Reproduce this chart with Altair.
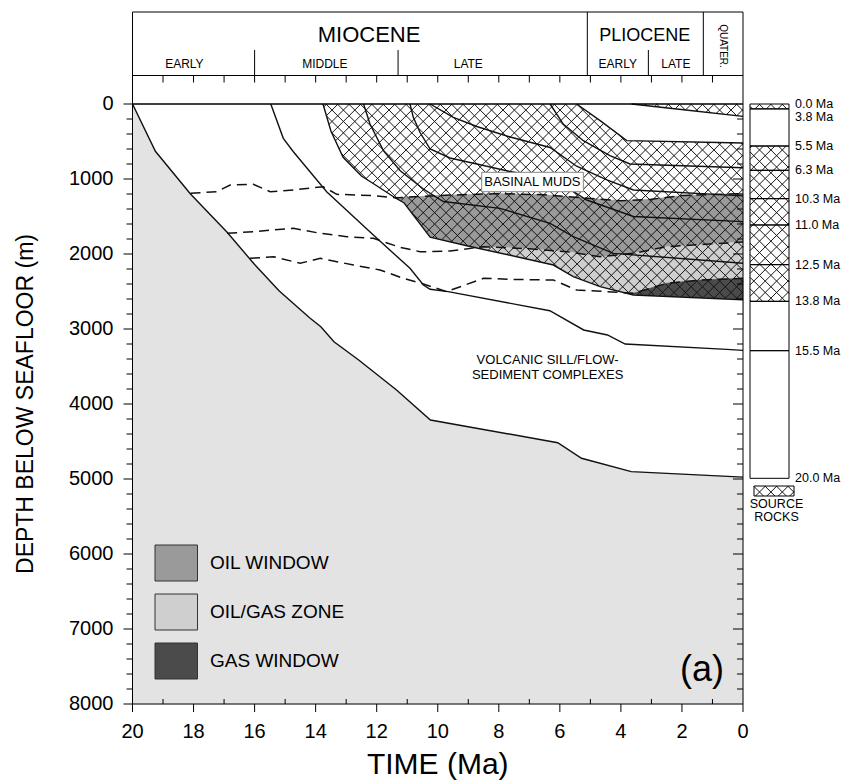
import math
import altair as alt
import pandas as pd

FONT = "Liberation Sans"
W, H = 610.5, 600.0
SX, SY = W / 20.0, H / 8000.0

# ---------------- data ----------------
# burial curves of stratigraphic horizons: time (Ma) and depth (m)
H20_T = [20.0, 19.25, 18.1, 16.9, 16.0, 15.2, 14.2, 13.83, 13.4, 12.59, 11.35, 10.24, 6.07, 5.29, 3.66, 0.0]
H20_D = [0, 630, 1200, 1710, 2140, 2490, 2850, 2970, 3170, 3413, 3813, 4213, 4516, 4724, 4902, 4975]
H155_T = [15.47, 15.06, 14.73, 13.64, 12.11, 10.91, 10.47, 10.25, 9.66, 6.33, 5.22, 4.44, 3.86, 0.53, 0.0]
H155_D = [0, 458, 636, 1169, 1747, 2191, 2413, 2470, 2502, 2756, 3013, 3080, 3200, 3271, 3285]
H138_T = [13.76, 13.5, 13.1, 12.5, 12.0, 11.4, 11.1, 10.25, 9.05, 7.41, 6.21, 5.56, 4.68, 3.59, 0.0]
H138_D = [0, 360, 710, 960, 1090, 1250, 1320, 1775, 1890, 2036, 2147, 2302, 2436, 2547, 2610]
H125_T = [12.43, 12.22, 11.78, 11.23, 10.47, 9.82, 7.96, 6.32, 5.56, 4.25, 0.0]
H125_D = [0, 267, 622, 889, 1133, 1300, 1391, 1591, 1769, 1991, 2124]
H110_T = [10.91, 10.8, 10.58, 10.25, 9.6, 8.72, 7.63, 6.54, 5.89, 5.12, 3.59, 0.0]
H110_D = [0, 178, 380, 600, 720, 800, 900, 980, 1080, 1280, 1500, 1569]
H103_T = [10.25, 9.49, 8.72, 7.63, 6.32, 5.45, 4.46, 3.59, 0.0]
H103_D = [0, 178, 300, 440, 580, 830, 1013, 1147, 1225]
H63_T = [6.32, 5.89, 5.23, 4.36, 3.7, 0.0]
H63_D = [0, 267, 489, 689, 800, 850]
H55_T = [5.45, 4.68, 3.81, 0.0]
H55_D = [0, 222, 489, 520]
H38_T = [3.65, 2.17, 0.0]
H38_D = [0, 67, 165]

# maturity isolines (dashed)
D1_T = [18.1, 17.24, 16.8, 16.04, 15.49, 14.73, 13.75, 13.31, 12.11, 11.35, 10.0, 8.0, 6.5, 5.0, 4.0, 3.0, 2.0, 0.0]
D1_D = [1191, 1169, 1080, 1071, 1169, 1147, 1102, 1204, 1222, 1250, 1220, 1195, 1210, 1260, 1290, 1270, 1220, 1195]
D2_T = [16.9, 16.04, 14.73, 13.85, 12.98, 12.11, 11.24, 10.58, 10.25, 9.6, 8.5, 7.0, 5.77, 4.68, 3.59, 2.5, 0.0]
D2_D = [1724, 1702, 1658, 1724, 1769, 1791, 1910, 1969, 1969, 1960, 1902, 1930, 1969, 2036, 1991, 1902, 1840]
D3_T = [16.15, 15.38, 14.51, 13.85, 12.76, 11.89, 11.13, 10.47, 9.71, 8.5, 7.63, 6.21, 5.45, 4.46, 3.59, 2.5, 1.41, 0.0]
D3_D = [2058, 2036, 2124, 2058, 2147, 2213, 2324, 2400, 2502, 2324, 2338, 2347, 2480, 2502, 2524, 2391, 2347, 2324]

# stratigraphic column (present-day depths)
COL_LABELS = ["0.0 Ma", "3.8 Ma", "5.5 Ma", "6.3 Ma", "10.3 Ma", "11.0 Ma", "12.5 Ma", "13.8 Ma", "15.5 Ma", "20.0 Ma"]
COL_DEPTH = [0, 65, 560, 884, 1262, 1613, 2142, 2631, 3289, 4991]
COL_LABEL_DEPTH = [0, 170, 560, 884, 1262, 1613, 2142, 2631, 3289, 4991]
COL_HATCHED = [True, False, True, True, True, True, True, False, False]

# geologic time scale header
EPOCH_BOUNDS = [5.1, 1.3]
SUB_BOUNDS = [16.0, 11.3, 3.1]
EPOCH_NAMES = ["MIOCENE", "PLIOCENE"]
EPOCH_POS = [12.25, 3.22]
SUB_NAMES = ["EARLY", "MIDDLE", "LATE", "EARLY", "LATE"]
SUB_POS = [18.3, 13.7, 9.0, 4.1, 2.2]

LEGEND_NAMES = ["OIL WINDOW", "OIL/GAS ZONE", "GAS WINDOW"]
OIL_C, OILGAS_C, GAS_C, BASE_C = "#9a9a9a", "#cfcfcf", "#4b4b4b", "#e3e3e3"
LEGEND_COLORS = [OIL_C, OILGAS_C, GAS_C]

Y_TICKS = list(range(0, 8001, 1000))
X_TICKS = list(range(0, 21, 2))
Y_TITLE = "DEPTH BELOW SEAFLOOR (m)"
X_TITLE = "TIME (Ma)"

# ---------------- helpers ----------------
XS = alt.Scale(domain=[0, 20], reverse=True, nice=False, zero=False)
YS = alt.Scale(domain=[0, 8000], reverse=True, nice=False, zero=False)


def X(f):
    return alt.X(f, scale=XS, axis=None)


def Y(f):
    return alt.Y(f, scale=YS, axis=None)


def pts(T, D):
    return list(zip(T, D))


def to_px(p):
    return [((20 - t) * SX, d * SY) for t, d in p]


def hatch(poly_td, period=11.4):
    poly = to_px(poly_td)
    segs = []
    n = len(poly)
    for s in (1.0, -1.0):
        cs = [v - s * u for u, v in poly]
        for k in range(math.floor(min(cs) / period), math.ceil(max(cs) / period) + 1):
            c = k * period + 0.37
            xs = []
            for j in range(n):
                u1, v1 = poly[j]
                u2, v2 = poly[(j + 1) % n]
                f1 = v1 - s * u1 - c
                f2 = v2 - s * u2 - c
                if (f1 > 0) != (f2 > 0):
                    r = f1 / (f1 - f2)
                    xs.append(u1 + r * (u2 - u1))
            xs.sort()
            for a, b in zip(xs[0::2], xs[1::2]):
                segs.append(dict(t1=20 - a / SX, d1=(s * a + c) / SY,
                                 t2=20 - b / SX, d2=(s * b + c) / SY))
    return segs


def poly_layer(p, color):
    df = pd.DataFrame([dict(i=i, t=t, d=d) for i, (t, d) in enumerate(p)])
    return alt.Chart(df).mark_line(fill=color, stroke=color, strokeWidth=0.6).encode(
        x=X("t:Q"), y=Y("d:Q"), order="i:Q")


def px_to_t(u):
    return 20 - u / SX


def text(df, size, align="center", **kw):
    return alt.Chart(df).mark_text(font=FONT, fontSize=size, color="black", align=align,
                                   baseline="middle", **kw)


H20, H155, H138, H125 = pts(H20_T, H20_D), pts(H155_T, H155_D), pts(H138_T, H138_D), pts(H125_T, H125_D)
H110, H103, H63, H55, H38 = pts(H110_T, H110_D), pts(H103_T, H103_D), pts(H63_T, H63_D), pts(H55_T, H55_D), pts(H38_T, H38_D)
D1, D2, D3 = pts(D1_T, D1_D), pts(D2_T, D2_D), pts(D3_T, D3_D)

# fills
oil_poly = D1 + D2[::-1]
oilgas_poly = D2 + D3[::-1]
gas_poly = D3 + [(0.0, 3000), (16.15, 3000)]
cover_below = [(20.0, 0)] + H138 + [(0.0, 8000), (20.0, 8000)]
cover_above = H55 + [(0.0, 0)]
basement = H20 + [(0.0, 8000), (20.0, 8000)]

bandA = [(13.76, 0)] + H55 + H138[::-1][:-1]
bandB = [(3.65, 0), (0.0, 0)] + H38[::-1][:-1]

# column geometry (pixels relative to plot origin)
CX0, CX1 = 617.5, 656.5
segs = hatch(bandA) + hatch(bandB)
for k, hflag in enumerate(COL_HATCHED):
    if hflag:
        segs += hatch([(px_to_t(CX0), COL_DEPTH[k]), (px_to_t(CX1), COL_DEPTH[k]),
                       (px_to_t(CX1), COL_DEPTH[k + 1]), (px_to_t(CX0), COL_DEPTH[k + 1])])
SR_D0, SR_D1 = 382 / SY, 392 / SY
segs += hatch([(px_to_t(621.5), SR_D0), (px_to_t(661.5), SR_D0),
               (px_to_t(661.5), SR_D1), (px_to_t(621.5), SR_D1)])
hatch_df = pd.DataFrame(segs)

line_rows = []
for name, p in [("h20", H20), ("h155", H155), ("h138", H138), ("h125", H125), ("h110", H110),
                ("h103", H103), ("h63", H63), ("h55", H55), ("h38", H38)]:
    for i, (t, d) in enumerate(p):
        line_rows.append(dict(name=name, i=i, t=t, d=d))
lines_df = pd.DataFrame(line_rows)

dash_rows = []
for name, p in [("d1", D1), ("d2", D2), ("d3", D3)]:
    for i, (t, d) in enumerate(p):
        dash_rows.append(dict(name=name, i=i, t=t, d=d))
dash_df = pd.DataFrame(dash_rows)

layers = []
layers += [poly_layer(oil_poly, OIL_C), poly_layer(oilgas_poly, OILGAS_C), poly_layer(gas_poly, GAS_C),
           poly_layer(cover_below, "#ffffff"), poly_layer(cover_above, "#ffffff"),
           poly_layer(basement, BASE_C)]

layers.append(alt.Chart(hatch_df).mark_rule(color="#151515", strokeWidth=1).encode(
    x=X("t1:Q"), x2="t2:Q", y=Y("d1:Q"), y2="d2:Q"))

layers.append(alt.Chart(lines_df).mark_line(color="#111111", strokeWidth=1.4).encode(
    x=X("t:Q"), y=Y("d:Q"), detail="name:N", order="i:Q"))

layers.append(alt.Chart(dash_df).mark_line(color="#111111", strokeWidth=1.5, strokeDash=[10, 6]).encode(
    x=X("t:Q"), y=Y("d:Q"), detail="name:N", order="i:Q"))

# annotation labels
layers.append(alt.Chart(pd.DataFrame({"t1": [8.56], "t2": [5.23], "d1": [911], "d2": [1169]})).mark_rect(
    fill="white", stroke="#888888", strokeWidth=1).encode(
    x=X("t1:Q"), x2="t2:Q", y=Y("d1:Q"), y2="d2:Q"))
layers.append(text(pd.DataFrame({"s": ["BASINAL MUDS"], "t": [6.9], "d": [1040]}), 13).encode(
    x=X("t:Q"), y=Y("d:Q"), text="s:N"))
layers.append(text(pd.DataFrame({"s": ["VOLCANIC SILL/FLOW-", "SEDIMENT COMPLEXES"],
                                 "t": [6.4, 6.4], "d": [3413, 3613]}), 13).encode(
    x=X("t:Q"), y=Y("d:Q"), text="s:N"))

# legend
leg_df = pd.DataFrame({"name": LEGEND_NAMES, "color": LEGEND_COLORS,
                       "top": [441, 490, 539], "bot": [477, 526, 575], "mid": [459, 508, 557]})
layers.append(alt.Chart(leg_df).mark_rect(stroke="#333333", strokeWidth=1).encode(
    x=alt.value(22.5), x2=alt.value(65), y=alt.Y("top:Q", scale=None), y2="bot:Q",
    fill=alt.Fill("color:N", scale=None)))
layers.append(text(leg_df, 19, align="left").encode(
    x=alt.value(77.5), y=alt.Y("mid:Q", scale=None), text="name:N"))
layers.append(text(pd.DataFrame({"s": ["(a)"]}), 36).encode(
    x=alt.value(569.5), y=alt.value(566), text="s:N"))

# axes: ticks and labels
minor_d = [d for d in range(200, 8000, 200) if d % 1000]
inner_major_d = list(range(1000, 8000, 1000))
layers.append(alt.Chart(pd.DataFrame({"d": minor_d})).mark_rule(color="black").encode(
    y=Y("d:Q"), x=alt.value(-6), x2=alt.value(0)))
layers.append(alt.Chart(pd.DataFrame({"d": Y_TICKS})).mark_rule(color="black").encode(
    y=Y("d:Q"), x=alt.value(-9), x2=alt.value(0)))
layers.append(alt.Chart(pd.DataFrame({"d": minor_d})).mark_rule(color="black").encode(
    y=Y("d:Q"), x=alt.value(W - 6), x2=alt.value(W)))
layers.append(alt.Chart(pd.DataFrame({"d": inner_major_d})).mark_rule(color="black").encode(
    y=Y("d:Q"), x=alt.value(W - 10), x2=alt.value(W)))
layers.append(alt.Chart(pd.DataFrame({"t": list(range(1, 20, 2))})).mark_rule(color="black").encode(
    x=X("t:Q"), y=alt.value(H - 5), y2=alt.value(H)))
layers.append(alt.Chart(pd.DataFrame({"t": X_TICKS})).mark_rule(color="black").encode(
    x=X("t:Q"), y=alt.value(H), y2=alt.value(H + 8)))
layers.append(text(pd.DataFrame({"d": Y_TICKS, "s": [str(v) for v in Y_TICKS]}), 20, align="right").encode(
    x=alt.value(-19), y=Y("d:Q"), text="s:N"))
layers.append(text(pd.DataFrame({"t": X_TICKS, "s": [str(v) for v in X_TICKS]}), 20).encode(
    x=X("t:Q"), y=alt.value(H + 28), text="s:N"))
layers.append(text(pd.DataFrame({"s": [Y_TITLE]}), 23, angle=270).encode(
    x=alt.value(-107), y=alt.value(H / 2), text="s:N"))
layers.append(text(pd.DataFrame({"s": [X_TITLE]}), 30).encode(
    x=alt.value(W / 2), y=alt.value(H + 61), text="s:N"))

# plot border
layers.append(alt.Chart(pd.DataFrame({"t1": [20], "t2": [0], "d1": [0], "d2": [8000]})).mark_rect(
    fillOpacity=0, stroke="black", strokeWidth=1).encode(
    x=X("t1:Q"), x2="t2:Q", y=Y("d1:Q"), y2="d2:Q"))

# header (time scale)
hdr = pd.DataFrame({"t1": [20], "t2": [0]})
layers.append(alt.Chart(hdr).mark_rect(fillOpacity=0, stroke="black", strokeWidth=1).encode(
    x=X("t1:Q"), x2="t2:Q", y=alt.value(-92), y2=alt.value(0)))
layers.append(alt.Chart(hdr).mark_rule(color="black").encode(
    x=X("t1:Q"), x2="t2:Q", y=alt.value(-28.5)))
layers.append(alt.Chart(pd.DataFrame({"t": EPOCH_BOUNDS})).mark_rule(color="black").encode(
    x=X("t:Q"), y=alt.value(-92), y2=alt.value(-28.5)))
layers.append(alt.Chart(pd.DataFrame({"t": SUB_BOUNDS})).mark_rule(color="black").encode(
    x=X("t:Q"), y=alt.value(-54), y2=alt.value(-28.5)))
layers.append(alt.Chart(pd.DataFrame({"t": list(range(1, 20))})).mark_rule(color="black").encode(
    x=X("t:Q"), y=alt.value(-28.5), y2=alt.value(-21.5)))
layers.append(text(pd.DataFrame({"s": [EPOCH_NAMES[0]], "t": [EPOCH_POS[0]]}), 22).encode(
    x=X("t:Q"), y=alt.value(-69.5), text="s:N"))
layers.append(text(pd.DataFrame({"s": [EPOCH_NAMES[1]], "t": [EPOCH_POS[1]]}), 18).encode(
    x=X("t:Q"), y=alt.value(-68.5), text="s:N"))
layers.append(text(pd.DataFrame({"s": SUB_NAMES, "t": SUB_POS}), 12).encode(
    x=X("t:Q"), y=alt.value(-40), text="s:N"))
layers.append(text(pd.DataFrame({"s": ["QUATER."], "t": [0.67]}), 10, angle=90).encode(
    x=X("t:Q"), y=alt.value(-58), text="s:N"))

# stratigraphic column
col_df = pd.DataFrame({"top": COL_DEPTH[:-1], "bot": COL_DEPTH[1:]})
layers.append(alt.Chart(col_df).mark_rect(fillOpacity=0, stroke="black", strokeWidth=1).encode(
    x=alt.value(CX0), x2=alt.value(CX1), y=Y("top:Q"), y2="bot:Q"))
layers.append(text(pd.DataFrame({"s": COL_LABELS, "d": COL_LABEL_DEPTH}), 12.5, align="left").encode(
    x=alt.value(662.5), y=Y("d:Q"), text="s:N"))
layers.append(alt.Chart(pd.DataFrame({"top": [SR_D0], "bot": [SR_D1]})).mark_rect(
    fillOpacity=0, stroke="black", strokeWidth=1).encode(
    x=alt.value(621.5), x2=alt.value(661.5), y=Y("top:Q"), y2="bot:Q"))
layers.append(text(pd.DataFrame({"s": ["SOURCE", "ROCKS"], "y": [400, 413]}), 12.5).encode(
    x=alt.value(644), y=alt.Y("y:Q", scale=None), text="s:N"))

chart = alt.layer(*layers).properties(
    width=W, height=H,
    autosize=alt.AutoSizeParams(type="none"),
    padding={"left": 132.5, "top": 104, "right": 102, "bottom": 77},
    background="white",
).configure_view(strokeWidth=0)

chart.save("out.html", embed_options={"renderer": "svg", "actions": False})
